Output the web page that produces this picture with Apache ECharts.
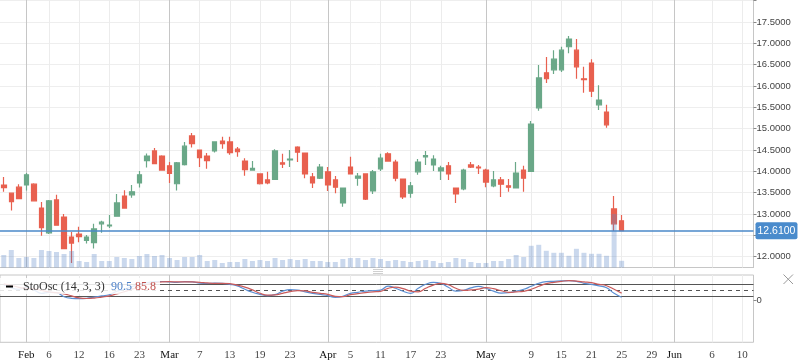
<!DOCTYPE html>
<html><head><meta charset="utf-8">
<script src="https://cdn.jsdelivr.net/npm/echarts@6/dist/echarts.min.js"></script>
<style>html,body{margin:0;padding:0;background:#fff}#c{width:798px;height:363px}</style>
</head><body><div id="c"></div>
<script>
// categories: trading days 2018-01-29 .. 2018-05-25, then calendar days to 2018-06-11
const dates = [
 '01-29','01-30','01-31',
 '02-01','02-02','02-05','02-06','02-07','02-08','02-09','02-12','02-13','02-14','02-15','02-16','02-20','02-21','02-22','02-23','02-26','02-27','02-28',
 '03-01','03-02','03-05','03-06','03-07','03-08','03-09','03-12','03-13','03-14','03-15','03-16','03-19','03-20','03-21','03-22','03-23','03-26','03-27','03-28','03-29',
 '04-02','04-03','04-04','04-05','04-06','04-09','04-10','04-11','04-12','04-13','04-16','04-17','04-18','04-19','04-20','04-23','04-24','04-25','04-26','04-27','04-30',
 '05-01','05-02','05-03','05-04','05-07','05-08','05-09','05-10','05-11','05-14','05-15','05-16','05-17','05-18','05-21','05-22','05-23','05-24','05-25',
 '05-26','05-27','05-28','05-29','05-30','05-31',
 '06-01','06-02','06-03','06-04','06-05','06-06','06-07','06-08','06-09','06-10','06-11'
];
const opens = [
 13.68,13.49,13.63,13.68,13.70,13.14,12.56,13.33,12.93,12.46,
 12.53,12.38,12.33,12.77,12.72,12.95,13.42,13.45,13.73,14.25,
 14.48,14.36,14.13,13.71,14.16,14.83,14.50,14.36,14.48,14.71,
 14.69,14.52,14.24,14.03,13.94,13.80,13.81,14.20,14.27,14.57,
 14.43,13.87,13.84,13.99,13.80,13.26,14.10,13.84,13.94,13.54,
 14.06,14.41,14.22,13.82,13.49,13.99,14.34,14.15,14.01,14.13,
 13.61,13.59,14.15,14.10,14.03,13.66,13.80,13.66,13.61,14.03,
 14.00,15.49,16.31,16.38,16.38,16.92,16.84,16.17,16.54,15.56,
 15.39,13.12,12.84
];
const closes = [
 13.62,13.29,13.36,13.92,13.31,12.68,13.31,12.74,12.19,12.32,
 12.47,12.46,12.65,12.81,12.74,13.26,13.14,13.52,13.92,14.36,
 14.18,14.03,13.95,14.20,14.59,14.65,14.32,14.25,14.69,14.65,
 14.44,14.46,14.04,14.07,13.71,13.73,14.48,14.17,14.29,14.45,
 13.94,13.73,14.10,13.68,13.63,13.61,13.94,13.89,13.35,13.99,
 14.31,14.24,13.84,13.40,13.66,14.22,14.37,14.29,14.08,13.94,
 13.47,14.03,14.10,14.08,13.75,13.80,13.70,13.63,13.96,13.84,
 15.11,16.19,16.17,16.63,16.84,17.10,16.45,16.15,15.88,15.67,
 15.09,12.77,12.61
];
const lows = [
 13.52,13.08,13.36,13.55,13.30,12.49,12.53,12.73,12.19,11.85,
 12.34,12.31,12.19,12.56,12.67,12.94,13.14,13.38,13.62,14.09,
 14.18,14.02,13.73,13.55,14.14,14.56,14.10,14.06,14.44,14.53,
 14.39,14.34,13.90,14.02,13.69,13.70,13.80,14.08,14.10,14.22,
 13.84,13.61,13.82,13.54,13.49,13.17,13.94,13.66,13.33,13.47,
 14.01,14.24,13.77,13.35,13.38,13.92,14.15,14.01,13.80,13.80,
 13.26,13.56,14.08,13.94,13.63,13.63,13.40,13.52,13.61,13.52,
 13.99,15.42,16.07,16.28,16.33,16.77,16.17,15.84,15.74,15.44,
 15.02,12.60,12.60
];
const highs = [
 13.87,13.50,13.70,13.96,13.72,13.28,13.33,13.45,13.00,12.58,
 12.70,12.51,12.77,12.84,12.98,13.47,13.56,13.68,14.01,14.42,
 14.55,14.38,14.22,14.22,14.69,14.90,14.50,14.43,14.69,14.81,
 14.81,14.57,14.31,14.24,13.94,13.99,14.52,14.41,14.50,14.59,
 14.43,13.96,14.17,14.10,13.89,13.61,14.34,13.96,13.94,14.03,
 14.41,14.45,14.27,13.82,13.75,14.29,14.48,14.38,14.13,14.22,
 13.61,14.06,14.22,14.15,14.06,14.01,13.87,13.82,14.22,14.13,
 15.18,16.49,16.68,16.84,16.92,17.17,17.10,16.45,16.63,16.02,
 15.56,13.42,12.98
];
// volume, thousands
const volumes = [
 1250,1750,950,1050,950,1750,1650,1550,1350,1650,
 650,550,1350,650,650,1050,950,850,1150,1350,
 1150,1250,950,750,1050,1050,1250,650,750,450,
 550,550,850,650,750,650,950,750,850,750,
 850,650,650,550,550,850,950,950,750,950,
 850,650,750,650,550,650,750,650,450,550,
 950,850,550,450,450,650,650,850,1250,1050,
 2170,2270,1670,1470,1470,1170,1870,1470,1370,1370,
 1170,5350,670
];
const stochK = [
 78,62,55,65,52,35,40,38,18,10,
 8,10,16,22,28,45,55,68,80,88,
 93,94,92,90,93,92,86,84,86,85,
 80,72,55,40,30,23,28,45,53,51,
 42,35,30,23,15,20,35,40,46,48,
 51,71,60,45,35,60,80,90,85,65,
 46,50,62,70,60,46,36,38,46,55,
 70,85,93,95,97,98,95,85,80,72,
 63,35,15
];
const stochD = [
 82,75,65,60,57,50,42,38,32,22,
 12,9,11,16,22,32,43,56,68,79,
 87,92,93,92,92,92,90,87,85,85,
 83,76,66,52,35,26,27,35,43,48,
 47,40,35,30,20,18,28,33,38,42,
 45,60,66,58,46,42,60,76,85,78,
 60,50,52,56,63,58,48,40,42,45,
 55,70,83,90,95,98,96,92,88,80,
 73,55,36
];
const xTickDates = ['02-01','02-06','02-12','02-16','02-23','03-01','03-07','03-13','03-19','03-23','04-02','04-05','04-11','04-17','04-23','05-01','05-09','05-15','05-21','05-25','05-29','06-01','06-06','06-10'];
const xTickTexts = ['Feb','6','12','16','23','Mar','7','13','19','23','Apr','5','11','17','23','May','9','15','21','25','29','Jun','6','10'];
const monthTickDates = ['02-01','03-01','04-02','05-01','06-01'];
const priceTickLabels = [12.0,13.0,13.5,14.0,14.5,15.0,15.5,16.0,16.5,17.0,17.5];
const lastPrice = 12.61;
const stochLevels = [80, 50, 20];
const stochName = 'StoOsc (14, 3, 3)';
const stochKText = '90.5';
const stochDText = '85.8';

const UP = '#6aa888', DOWN = '#e8604f';
const tickMap = {}; xTickDates.forEach((d,i)=>tickMap[d]=xTickTexts[i]);
const monthSet = new Set(monthTickDates);
const candleData = opens.map((o,i)=>[o, closes[i], lows[i], highs[i]]);

function vLines(){
  return xTickDates.map(d=>({
    xAxis: dates.indexOf(d),
    lineStyle: {color: monthSet.has(d) ? '#c6c6c6' : '#ececec', width: 1, type:'solid'}
  }));
}

const chart = echarts.init(document.getElementById('c'), null, {renderer:'canvas'});
const GL = -1.5, GR = 44.5;
chart.setOption({
  animation: false,
  grid: [
    {left: GL, right: GR, top: 0, height: 267.5},
    {left: GL, right: GR, top: 275, height: 67.3, show: true, borderColor: '#c6c6c6', borderWidth: 1, backgroundColor: 'transparent'}
  ],
  xAxis: [
    {type:'category', data: dates, gridIndex:0, boundaryGap:true,
     axisLine:{show:true, lineStyle:{color:'#c6c6c6'}}, axisTick:{show:false}, axisLabel:{show:false}, splitLine:{show:false}},
    {type:'category', data: dates, gridIndex:1, boundaryGap:true,
     axisLine:{show:false}, axisTick:{show:false}, splitLine:{show:false},
     axisLabel:{
       interval: (idx, val) => tickMap[val] !== undefined,
       formatter: val => monthSet.has(val) ? '{m|' + tickMap[val] + '}' : tickMap[val],
       fontFamily:'Liberation Serif', fontSize: 11, color:'#444', margin: 7,
       rich: {m: {fontFamily:'Liberation Serif', fontSize: 11, color:'#111'}}
     }}
  ],
  yAxis: [
    {type:'value', gridIndex:0, position:'right', min: 11.747, max: 18.016, splitNumber: 12,
     axisLine:{show:true, lineStyle:{color:'#c6c6c6'}},
     axisTick:{show:true, length:3, lineStyle:{color:'#888'}},
     axisLabel:{margin:3, fontFamily:'Liberation Sans', fontSize:9.5, color:'#444',
       showMinLabel:false, showMaxLabel:false,
       formatter: v => priceTickLabels.some(p => Math.abs(p - v) < 1e-6) ? v.toFixed(4) : ''},
     splitLine:{show:true, lineStyle:{color:'#eeeeee', width:1}}},
    {type:'value', gridIndex:0, min:0, max:26750, show:false, splitLine:{show:false}},
    {type:'value', gridIndex:1, position:'right', min:-210, max:126.5,
     axisLine:{show:false}, splitLine:{show:false},
     axisTick:{show:true, length:3, lineStyle:{color:'#888'}, customValues:[0]},
     axisLabel:{margin:3, fontFamily:'Liberation Sans', fontSize:9.5, color:'#444', customValues:[0]}}
  ],
  series: [
    {type:'line', name:'vgrid0', xAxisIndex:0, yAxisIndex:0, data:[], z:1, silent:true,
     markLine:{z:1, silent:true, symbol:['none','none'], label:{show:false}, animation:false, data: vLines()}},
    {type:'line', name:'vgrid1', xAxisIndex:1, yAxisIndex:2, data:[], z:1, silent:true,
     markLine:{z:1, silent:true, symbol:['none','none'], label:{show:false}, animation:false, data: vLines()}},
    {type:'candlestick', name:'price', xAxisIndex:0, yAxisIndex:0, data: candleData, barWidth:5, z:3,
     itemStyle:{color:UP, color0:DOWN, borderColor:UP, borderColor0:DOWN, borderWidth:1.2}},
    {type:'bar', name:'volume', xAxisIndex:0, yAxisIndex:1, data: volumes, barWidth:5, z:4, silent:true,
     itemStyle:{color:'rgba(90,135,200,0.32)'}},
    {type:'line', name:'last', xAxisIndex:0, yAxisIndex:0, data:[], z:6, silent:true,
     markLine:{z:6, silent:true, symbol:['none','none'], animation:false,
       lineStyle:{color:'#4a88c9', width:1.5, type:'solid'},
       label:{show:true, position:'end', distance:2, formatter: lastPrice.toFixed(4), color:'#fff',
         backgroundColor:'#4a8bcc', padding:[3,2,3,2], borderRadius:2, fontSize:10.5, fontFamily:'Liberation Sans'},
       data:[{yAxis: lastPrice}]}},
    {type:'line', name:'%K', xAxisIndex:1, yAxisIndex:2, data: stochK, smooth:true, symbol:'none', z:3,
     lineStyle:{color:'#5b8fd3', width:1.2},
     markLine:{z:2, silent:true, symbol:['none','none'], label:{show:false}, animation:false,
       data: stochLevels.map(v=>({yAxis:v, lineStyle:{color:'#555', width:1, type: v===50 ? [4,4] : 'solid'}}))}},
    {type:'line', name:'%D', xAxisIndex:1, yAxisIndex:2, data: stochD, smooth:true, symbol:'none', z:3,
     lineStyle:{color:'#c95b5b', width:1.2}}
  ],
  graphic: [
    {type:'rect', z:100, shape:{x:0, y:278, width:160, height:16}, style:{fill:'rgba(255,255,255,0.85)'}},
    {type:'line', z:101, shape:{x1:6, y1:286.5, x2:13, y2:286.5}, style:{stroke:'#000', lineWidth:2}},
    {type:'text', z:101, x:23, y:287, style:{text: stochName, fontFamily:'Liberation Serif', fontSize:12, fill:'#333', verticalAlign:'middle'}},
    {type:'text', z:101, x:111, y:287, style:{text: stochKText, fontFamily:'Liberation Serif', fontSize:12, fill:'#4f82c8', verticalAlign:'middle'}},
    {type:'text', z:101, x:135, y:287, style:{text: stochDText, fontFamily:'Liberation Serif', fontSize:12, fill:'#c0504d', verticalAlign:'middle'}},
    {type:'line', z:101, shape:{x1:783.5, y1:274.5, x2:793, y2:284}, style:{stroke:'#999', lineWidth:1}},
    {type:'line', z:101, shape:{x1:793, y1:274.5, x2:783.5, y2:284}, style:{stroke:'#999', lineWidth:1}},
    {type:'line', z:101, shape:{x1:373, y1:269.5, x2:383, y2:269.5}, style:{stroke:'#d0d0d0', lineWidth:1}},
    {type:'line', z:101, shape:{x1:373, y1:271.5, x2:383, y2:271.5}, style:{stroke:'#d0d0d0', lineWidth:1}},
    {type:'line', z:101, shape:{x1:373, y1:273.5, x2:383, y2:273.5}, style:{stroke:'#d0d0d0', lineWidth:1}}
  ]
});
</script>
</body></html>
